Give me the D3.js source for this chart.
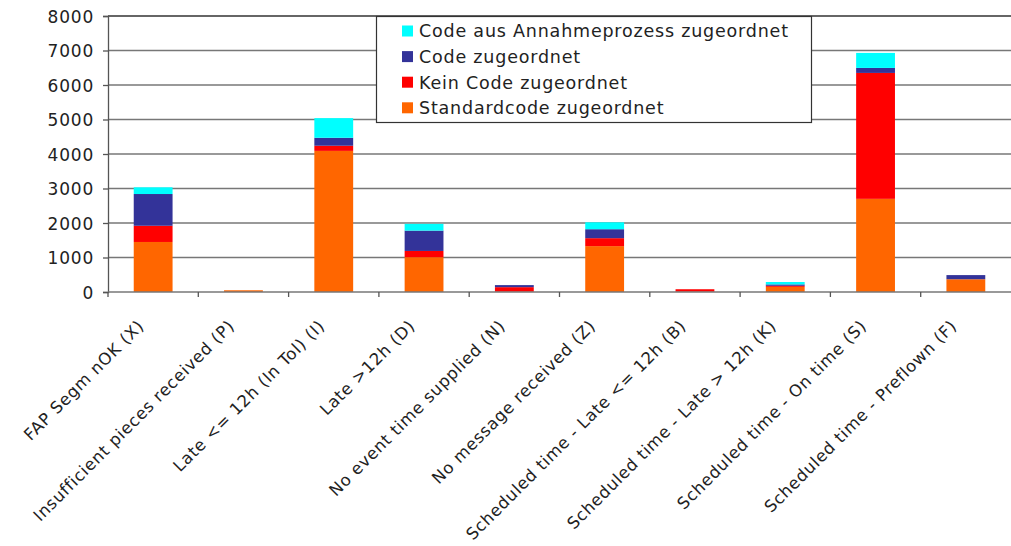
<!DOCTYPE html>
<html><head><meta charset="utf-8">
<script src="https://cdn.jsdelivr.net/npm/d3@7"></script>
<style>
html,body{margin:0;padding:0;background:#fff;}
text{font-family:"DejaVu Sans",Verdana,sans-serif;fill:#222;}
</style></head>
<body>
<svg id="chart" width="1011" height="546"></svg>
<script>
const categories = [
  "FAP Segm nOK (X)",
  "Insufficient pieces received (P)",
  "Late <= 12h (In Tol) (I)",
  "Late >12h (D)",
  "No event  time supplied (N)",
  "No message received (Z)",
  "Scheduled time - Late <= 12h (B)",
  "Scheduled time - Late > 12h (K)",
  "Scheduled time - On time (S)",
  "Scheduled time - Preflown (F)"
];
const seriesNames = ["Standardcode zugeordnet","Kein Code zugeordnet","Code zugeordnet","Code aus Annahmeprozess zugeordnet"];
const standardcode = [1450, 50, 4090, 1010, 10, 1330, 10, 150, 2700, 370];
const keinCode     = [470, 0, 150, 180, 130, 230, 70, 30, 3650, 0];
const codeZu       = [920, 0, 230, 590, 60, 260, 0, 40, 145, 120];
const codeAus      = [195, 0, 570, 195, 0, 200, 0, 70, 435, 0];
const seriesColors = ["#FF6600","#FF0000","#333399","#00FFFF"];
const yTicks = [0,1000,2000,3000,4000,5000,6000,7000,8000];

const svg = d3.select("#chart");
const L = 108, R = 1011, T = 16, B = 292;
const y = d3.scaleLinear().domain([0,8000]).range([B,T]);
const x = d3.scaleBand().domain(categories).range([L,R]).padding(0);
const barW = x.bandwidth()*0.43;

// gridlines
svg.append("g").selectAll("line").data(yTicks.slice(1)).join("line")
  .attr("x1",L).attr("x2",R).attr("y1",d=>y(d)).attr("y2",d=>y(d))
  .attr("stroke",d=>d===8000?"#333":"#777").attr("stroke-width",1.3);

// stacked bars
const rows = categories.map((c,i)=>({cat:c, s0:standardcode[i], s1:keinCode[i], s2:codeZu[i], s3:codeAus[i]}));
const stack = d3.stack().keys(["s0","s1","s2","s3"])(rows);
svg.append("g").selectAll("g").data(stack).join("g")
  .attr("fill",(d,i)=>seriesColors[i])
  .selectAll("rect").data(d=>d).join("rect")
  .attr("x",d=>x(d.data.cat)+x.bandwidth()/2-barW/2)
  .attr("width",barW)
  .attr("y",d=>y(d[1]))
  .attr("height",d=>y(d[0])-y(d[1]));

// y axis
const yAxis = d3.axisLeft(y).tickValues(yTicks).tickSize(5).tickPadding(9).tickFormat(d3.format("d"));
const gy = svg.append("g").attr("transform",`translate(${L},0)`).call(yAxis);
gy.select(".domain").attr("stroke","#555").attr("stroke-width",1.3);
gy.selectAll(".tick line").attr("stroke","#555").attr("stroke-width",1.3);
gy.selectAll(".tick text").style("font-size","17px").style("letter-spacing","0.8px").attr("fill","#222").attr("dy","0.36em");

// x axis line and ticks at category boundaries
const bounds = categories.map(c=>x(c)).concat([R]);
svg.append("line").attr("x1",L).attr("x2",R).attr("y1",B).attr("y2",B).attr("stroke","#777").attr("stroke-width",1.5);
svg.append("g").selectAll("line").data(bounds.slice(0,-1)).join("line")
  .attr("x1",d=>d).attr("x2",d=>d).attr("y1",B).attr("y2",B+5)
  .attr("stroke","#555").attr("stroke-width",1.3);

// x labels
svg.append("g").selectAll("text").data(categories).join("text")
  .attr("transform",d=>`translate(${x(d)+x.bandwidth()/2-8},327) rotate(-45)`)
  .attr("text-anchor","end")
  .style("font-size","16.5px").style("letter-spacing","0.7px")
  .text(d=>d);

// legend
const lg = svg.append("g");
lg.append("rect").attr("x",376.5).attr("y",16.5).attr("width",435).attr("height",106)
  .attr("fill","#fff").attr("stroke","#333").attr("stroke-width",1.2);
const legendOrder = [3,2,1,0];
lg.selectAll("g.item").data(legendOrder).join("g").attr("class","item")
  .attr("transform",(d,i)=>`translate(402,${31+i*25.6})`)
  .each(function(d){
    const g = d3.select(this);
    g.append("rect").attr("x",0).attr("y",-5.5).attr("width",11).attr("height",11).attr("fill",seriesColors[d]);
    g.append("text").attr("x",17).attr("y",0).attr("dy","0.36em")
      .style("font-size","17.5px").style("letter-spacing","0.8px").text(seriesNames[d]);
  });
</script>
</body></html>
